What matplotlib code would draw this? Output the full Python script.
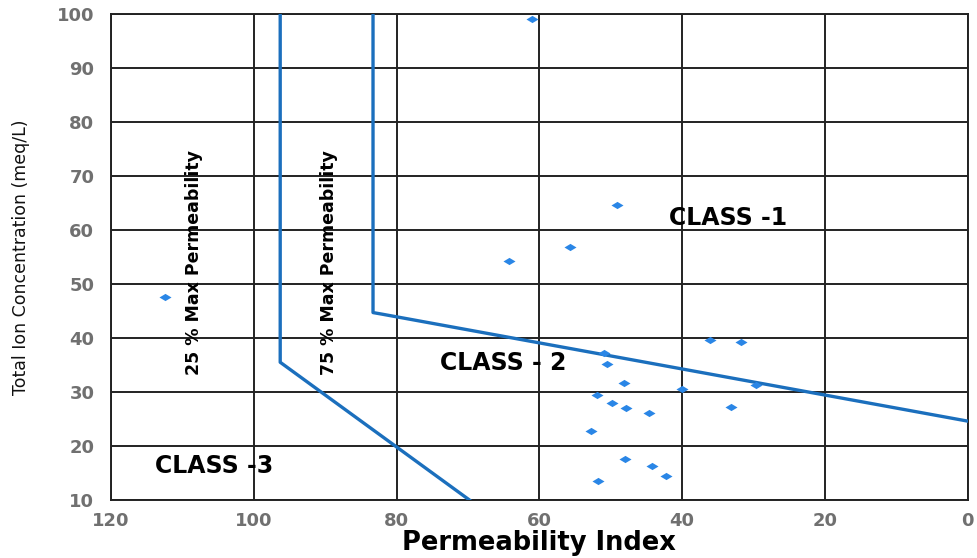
import matplotlib
matplotlib.use("Agg")
import matplotlib.pyplot as plt

# Puntos de muestra (indice de permeabilidad, concentracion ionica total)
pi_values = [61.1, 112.4, 49.1, 55.7, 64.2, 36.1, 31.8, 51.0, 50.5, 48.2, 40.0,
             29.7, 51.9, 49.8, 47.9, 44.6, 33.2, 52.8, 48.0, 44.2, 42.2, 51.8]
tic_values = [99.1, 47.6, 64.6, 56.9, 54.3, 39.7, 39.3, 37.2, 35.1, 31.7, 30.6,
              31.3, 29.4, 28.0, 27.0, 26.1, 27.2, 22.8, 17.5, 16.2, 14.5, 13.5]

# Limites de clase de Doneen
line25_x = [96.3, 96.3, 69.8]
line25_y = [100, 35.5, 10]
line75_x = [83.3, 83.3, 82.0, 0]
line75_y = [100, 44.7, 44.4, 24.6]

x_ticks = [120, 100, 80, 60, 40, 20, 0]
y_ticks = [10, 20, 30, 40, 50, 60, 70, 80, 90, 100]

fig = plt.figure(figsize=(9.78, 5.58), dpi=100)
ax = fig.add_axes([0.1135, 0.104, 0.876, 0.871])

ax.set_xlim(120, 0)
ax.set_ylim(10, 100)
ax.set_xticks(x_ticks)
ax.set_yticks(y_ticks)
ax.grid(True, color="#222222", linewidth=1.4)
ax.set_axisbelow(True)
ax.tick_params(length=0, labelcolor="#707070", labelsize=13)
ax.tick_params(axis="x", pad=9)
ax.tick_params(axis="y", pad=12)
for lab in ax.get_xticklabels() + ax.get_yticklabels():
    lab.set_fontweight("bold")
for s in ax.spines.values():
    s.set_color("#222222")
    s.set_linewidth(1.4)

blue = "#1b6fbd"
ax.plot(line25_x, line25_y, color=blue, linewidth=2.4, zorder=3)
ax.plot(line75_x, line75_y, color=blue, linewidth=2.4, zorder=3)

diamond = [(-1, 0), (0, 0.6), (1, 0), (0, -0.6)]
ax.scatter(pi_values, tic_values, marker=diamond, s=75, color="#2a86e6",
           zorder=4, linewidths=0)

ax.text(108.4, 54, "25 % Max Permeability", rotation=90, ha="center", va="center",
        fontsize=12.5, fontweight="bold")
ax.text(89.4, 54, "75 % Max Permeability", rotation=90, ha="center", va="center",
        fontsize=12.5, fontweight="bold")

ax.text(33.5, 62.2, "CLASS -1", ha="center", va="center", fontsize=17,
        fontweight="bold")
ax.text(65.1, 35.4, "CLASS - 2", ha="center", va="center", fontsize=17,
        fontweight="bold")
ax.text(105.6, 16.3, "CLASS -3", ha="center", va="center", fontsize=17,
        fontweight="bold")

ax.set_xlabel("Permeability Index", fontsize=18.5, fontweight="bold", labelpad=0)
ax.set_ylabel("Total Ion Concentration (meq/L)", fontsize=12.5, color="#111111")
ax.yaxis.set_label_coords(-0.094, 0.5)

fig.savefig("out.png", dpi=100)
